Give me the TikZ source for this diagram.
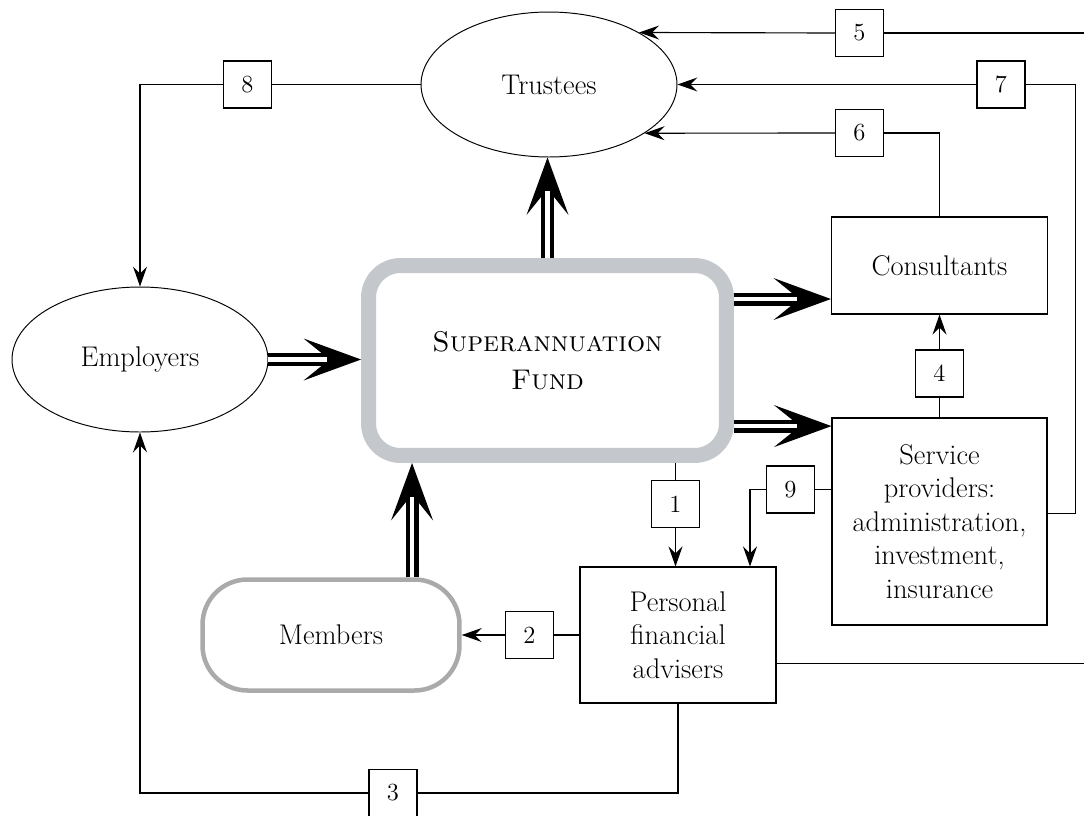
\documentclass[tikz,border=0pt]{standalone}
\usepackage{fontspec}
\usetikzlibrary{arrows.meta,shapes.geometric,calc}
\definecolor{fundgrey}{RGB}{196,200,204}
\definecolor{membergrey}{RGB}{170,170,170}

\begin{document}
\begin{tikzpicture}[x=0.02cm,y=-0.02cm,line width=0.65pt,
    >={Stealth[length=0.4cm,width=0.28cm,inset=0.14cm]},
    every node/.style={font=\fontsize{16.2}{19}\selectfont,align=center,inner sep=0pt},
    party/.style={draw,ellipse,line width=0.55pt,minimum width=5.12cm,minimum height=2.9cm},
    plainbox/.style={draw,rectangle},
    numbox/.style={draw,rectangle,minimum width=0.96cm,minimum height=0.94cm,font=\fontsize{14}{17}\selectfont},
    fatarrow/.style={line width=0.26cm,-{Stealth[length=1.15cm,width=0.84cm,inset=0.52cm,line width=0pt]},
      postaction={draw=white,line width=0.09cm,shorten >=0.68cm,arrows=-}}]
        \useasboundingbox (0,0) rectangle (1084,815);

        % parties
        \node[party] (trustees) at (549,84.5) {Trustees};
        \node[party] (employers) at (140,359.5) {Employers};
        \node[draw=fundgrey,line width=0.3cm,rounded corners=0.64cm,minimum width=7.16cm,minimum height=3.8cm,
              font=\fontsize{16.2}{22}\selectfont] (fund) at (547.5,360.5) {\textsc{Superannuation}\\\textsc{Fund}};
        \node[draw=membergrey,line width=0.09cm,rounded corners=0.9cm,minimum width=5.14cm,minimum height=2.22cm] (members) at (331,635) {Members};
        \node[plainbox,minimum width=4.32cm,minimum height=1.94cm] (consultants) at (939.5,265.5) {Consultants};
        \node[plainbox,minimum width=4.3cm,minimum height=4.14cm] (providers) at (939.5,521.5) {Service\\providers:\\administration,\\investment,\\insurance};
        \node[plainbox,minimum width=3.92cm,minimum height=2.72cm] (advisers) at (678,635) {Personal\\financial\\advisers};

        % numbered links
        \node[numbox] (b1) at (675.5,504) {1};
        \node[numbox] (b2) at (529.5,635) {2};
        \node[numbox] (b3) at (393,793) {3};
        \node[numbox] (b4) at (939.5,373.5) {4};
        \node[numbox] (b5) at (859.5,33) {5};
        \node[numbox] (b6) at (859.5,133) {6};
        \node[numbox] (b7) at (1001,84.5) {7};
        \node[numbox] (b8) at (247.5,84.5) {8};
        \node[numbox] (b9) at (790.5,489.5) {9};

        \coordinate (fundtocons) at ($(fund.north east)!0.2!(fund.south east)$);
        \coordinate (fundtoprov) at ($(fund.north east)!0.82!(fund.south east)$);
        \coordinate (memup) at ($(members.north west)!0.81!(members.north east)$);
        \coordinate (provright) at ($(providers.north east)!0.46!(providers.south east)$);
        \coordinate (advright) at ($(advisers.north east)!0.706!(advisers.south east)$);

        % main flows
        \draw[fatarrow] (fund.north) -- (fund.north |- trustees.south);
        \draw[fatarrow] (employers.east) -- (employers.east -| fund.west);
        \draw[fatarrow] (fundtocons) -- (fundtocons -| consultants.west);
        \draw[fatarrow] (fundtoprov) -- (fundtoprov -| providers.west);
        \draw[fatarrow] (memup) -- (memup |- fund.south);

        % thin links
        \draw (trustees.west) -- (b8.east);
        \draw[->] (b8.west) -| (employers.north);
        \draw (b5.east) -- ++(210,0);
        \draw[->] (b5.west) -- (trustees.30);
        \draw (b7.east) -- ++(50,0) |- (provright);
        \draw[->] (b7.west) -- (trustees.east);
        \draw (consultants.north) |- (b6.east);
        \draw[->] (b6.west) -- (trustees.-27);
        \draw (providers.north) -- (b4.south);
        \draw[->] (b4.north) -- (consultants.south);
        \draw (b1.north |- fund.south) -- (b1.north);
        \draw[->] (b1.south) -- (b1.south |- advisers.north);
        \draw (b9.east -| providers.west) -- (b9.east);
        \draw[->] (b9.west) -| ($(advisers.north)+(72,0)$);
        \draw (b2.east -| advisers.west) -- (b2.east);
        \draw[->] (b2.west) -- (members.east);
        \draw (advisers.south) |- (b3.east);
        \draw[->] (b3.west) -| (employers.south);
        \draw (advright) -- ++(320,0);
    \end{tikzpicture}
\end{document}
